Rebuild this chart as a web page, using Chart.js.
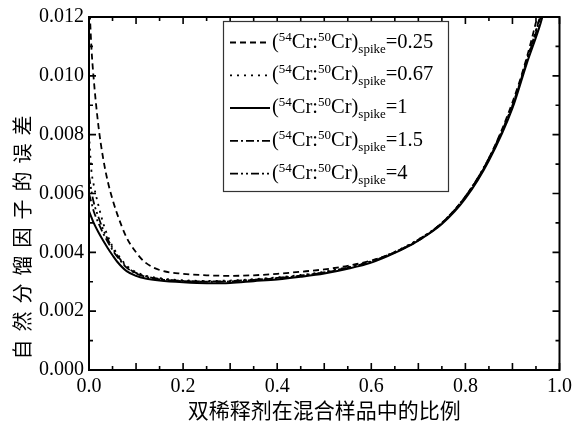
<!DOCTYPE html>
<html><head><meta charset="utf-8">
<script src="https://cdn.jsdelivr.net/npm/chart.js@4.4.1/dist/chart.umd.min.js"></script>
<style>html,body{margin:0;padding:0;background:#fff}</style>
</head><body>
<canvas id="c" width="577" height="421" style="width:577px;height:421px;display:block"></canvas>
<script>
// ---- data ----
const xValues   = [0, 0.005, 0.01, 0.02, 0.03, 0.04, 0.05, 0.06, 0.08, 0.10, 0.12, 0.15, 0.20, 0.25, 0.30, 0.35, 0.40, 0.45, 0.50, 0.55, 0.60, 0.65, 0.70, 0.75, 0.80, 0.85, 0.90, 0.93, 0.96, 0.98];
const spike025  = [0.0128, 0.0110, 0.0099, 0.0083, 0.0072, 0.0064, 0.0058, 0.0053, 0.0045, 0.0040, 0.00365, 0.0034, 0.00327, 0.00322, 0.0032, 0.00322, 0.00327, 0.00334, 0.00342, 0.00354, 0.00372, 0.0040, 0.0044, 0.0050, 0.0059, 0.0072, 0.0091, 0.0106, 0.0125, 0.0140];
const spike067  = [0.0080, 0.0068, 0.0063, 0.0056, 0.0050, 0.00455, 0.0042, 0.00395, 0.00355, 0.00333, 0.00321, 0.00312, 0.00305, 0.00303, 0.00304, 0.00309, 0.00315, 0.00323, 0.00334, 0.0035, 0.0037, 0.00402, 0.00444, 0.0050, 0.0059, 0.0072, 0.0090, 0.0105, 0.0121, 0.0134];
const spike1    = [0.0054, 0.0052, 0.0050, 0.00468, 0.0044, 0.00414, 0.0039, 0.00368, 0.00336, 0.0032, 0.00311, 0.00304, 0.00298, 0.00295, 0.00296, 0.00302, 0.00308, 0.00317, 0.00328, 0.00344, 0.00365, 0.00398, 0.0044, 0.00496, 0.00583, 0.00712, 0.0089, 0.0104, 0.0118, 0.0130];
const spike15   = [0.0060, 0.0057, 0.0054, 0.0050, 0.00465, 0.00435, 0.00408, 0.00385, 0.00348, 0.00328, 0.00317, 0.00308, 0.00302, 0.0030, 0.00301, 0.00306, 0.00312, 0.0032, 0.00331, 0.00347, 0.00368, 0.0040, 0.00442, 0.00499, 0.00588, 0.00718, 0.00898, 0.0105, 0.0120, 0.0133];
const spike4    = [0.0066, 0.0061, 0.0057, 0.0052, 0.00478, 0.00444, 0.00415, 0.0039, 0.00351, 0.0033, 0.00319, 0.0031, 0.00303, 0.00301, 0.00302, 0.00307, 0.00313, 0.00321, 0.00332, 0.00348, 0.00369, 0.00401, 0.00443, 0.005, 0.0059, 0.0072, 0.009, 0.0105, 0.0121, 0.0134];
const seriesLabels = ['(^{54}Cr:^{50}Cr)_{spike}=0.25', '(^{54}Cr:^{50}Cr)_{spike}=0.67', '(^{54}Cr:^{50}Cr)_{spike}=1', '(^{54}Cr:^{50}Cr)_{spike}=1.5', '(^{54}Cr:^{50}Cr)_{spike}=4'];
const xTickLabels = ['0.0', '0.2', '0.4', '0.6', '0.8', '1.0'];
const yTickLabels = ['0.000', '0.002', '0.004', '0.006', '0.008', '0.010', '0.012'];
const xTitle = '双稀释剂在混合样品中的比例';
const yTitle = '自然分馏因子的误差';

// ---- styles ----
const seriesData = [spike025, spike067, spike1, spike15, spike4];
const dashes = [[6, 4], [2, 5], [], [8, 3, 2, 3], [8, 3, 2, 3, 2, 3]];
const widths = [1.8, 1.8, 2, 1.8, 1.8];
const SERIF = '"Liberation Serif", "Times New Roman", serif';
const CJK = '"Noto Sans CJK SC", sans-serif';

const datasets = seriesData.map((arr, i) => ({
  label: seriesLabels[i],
  data: arr.map((v, j) => ({x: xValues[j], y: v})),
  borderColor: '#000',
  borderWidth: widths[i],
  borderDash: dashes[i],
  pointRadius: 0,
  fill: false,
  cubicInterpolationMode: 'monotone'
}));

const frameTicks = {
  id: 'frameTicks',
  afterDatasetsDraw(chart) {
    const {ctx, chartArea: a, scales: {x, y}} = chart;
    ctx.save();
    ctx.strokeStyle = '#000';
    ctx.lineWidth = 1.6;
    for (let i = 0; i <= 20; i++) {
      const v = i * 0.05;
      const px = x.getPixelForValue(v);
      const len = (i % 2 === 0) ? 7 : 4;
      ctx.beginPath();
      ctx.moveTo(px, a.bottom); ctx.lineTo(px, a.bottom - len);
      ctx.moveTo(px, a.top); ctx.lineTo(px, a.top + len);
      ctx.stroke();
    }
    for (let i = 0; i <= 12; i++) {
      const v = i * 0.001;
      const py = y.getPixelForValue(v);
      const len = (i % 2 === 0) ? 7 : 4;
      ctx.beginPath();
      ctx.moveTo(a.left, py); ctx.lineTo(a.left + len, py);
      ctx.moveTo(a.right, py); ctx.lineTo(a.right - len, py);
      ctx.stroke();
    }
    ctx.lineWidth = 2;
    ctx.strokeRect(a.left, a.top, a.right - a.left, a.bottom - a.top);
    ctx.restore();
  }
};

function drawRich(ctx, str, x0, base) {
  const parts = str.match(/\^\{[^}]*\}|_\{[^}]*\}|[^^_]+/g);
  let x = x0;
  for (const p of parts) {
    let t = p, size = 20.5, dy = 0;
    if (p.startsWith('^{')) { t = p.slice(2, -1); size = 13; dy = -7; }
    else if (p.startsWith('_{')) { t = p.slice(2, -1); size = 13; dy = 5; }
    ctx.font = size + 'px ' + SERIF;
    ctx.fillText(t, x, base + dy);
    x += ctx.measureText(t).width;
  }
}

const richLegend = {
  id: 'richLegend',
  afterDraw(chart) {
    const ctx = chart.ctx;
    ctx.save();
    const bx = 223.5, by = 21.5, bw = 225, bh = 170;
    ctx.fillStyle = '#fff';
    ctx.fillRect(bx, by, bw, bh);
    ctx.strokeStyle = '#333';
    ctx.lineWidth = 1.2;
    ctx.strokeRect(bx, by, bw, bh);
    chart.data.datasets.forEach((ds, i) => {
      const yy = 42.5 + i * 32.8;
      ctx.strokeStyle = '#000';
      ctx.lineWidth = ds.borderWidth;
      ctx.setLineDash(ds.borderDash);
      ctx.beginPath(); ctx.moveTo(230, yy); ctx.lineTo(270, yy); ctx.stroke();
      ctx.setLineDash([]);
      ctx.fillStyle = '#000';
      ctx.textBaseline = 'alphabetic';
      ctx.textAlign = 'left';
      drawRich(ctx, ds.label, 272, yy + 5);
    });
    ctx.restore();
  }
};

const yTitlePatch = {
  id: 'yTitlePatch',
  beforeDraw(chart) {
    const s = chart.scales.y;
    if (s._patched) return;
    const orig = s.drawTitle.bind(s);
    s.drawTitle = function () {
      const ctx = this.ctx;
      ctx.save();
      ctx.translate(0, 40);
      try { ctx.letterSpacing = '8px'; } catch (e) {}
      orig();
      ctx.restore();
    };
    s._patched = true;
  }
};

new Chart(document.getElementById('c'), {
  type: 'line',
  data: {datasets},
  plugins: [yTitlePatch, frameTicks, richLegend],
  options: {
    responsive: false,
    animation: false,
    devicePixelRatio: 1,
    layout: {padding: {top: 17, right: 14, left: 0, bottom: 0}},
    plugins: {legend: {display: false}, tooltip: {enabled: false}},
    scales: {
      x: {
        type: 'linear', min: 0, max: 1,
        afterFit: s => { s.height = 51; },
        grid: {display: false, drawTicks: false},
        border: {display: false},
        ticks: {stepSize: 0.2, padding: 5, color: '#000', font: {family: SERIF, size: 20},
                maxRotation: 0, callback: (v, i) => xTickLabels[i]},
        title: {display: true, text: xTitle, color: '#000', font: {family: CJK, size: 21, lineHeight: 1.0}, padding: {top: 0, bottom: 0}}
      },
      y: {
        type: 'linear', min: 0, max: 0.012,
        afterFit: s => { s.width = 89; },
        grid: {display: false, drawTicks: false},
        border: {display: false},
        ticks: {stepSize: 0.002, padding: 5, color: '#000', font: {family: SERIF, size: 20},
                callback: (v, i) => yTickLabels[i]},
        title: {display: true, text: yTitle, color: '#000', font: {family: CJK, size: 20, lineHeight: 1.2}, padding: {top: 10, bottom: 0}}
      }
    }
  }
});
</script>
</body></html>
